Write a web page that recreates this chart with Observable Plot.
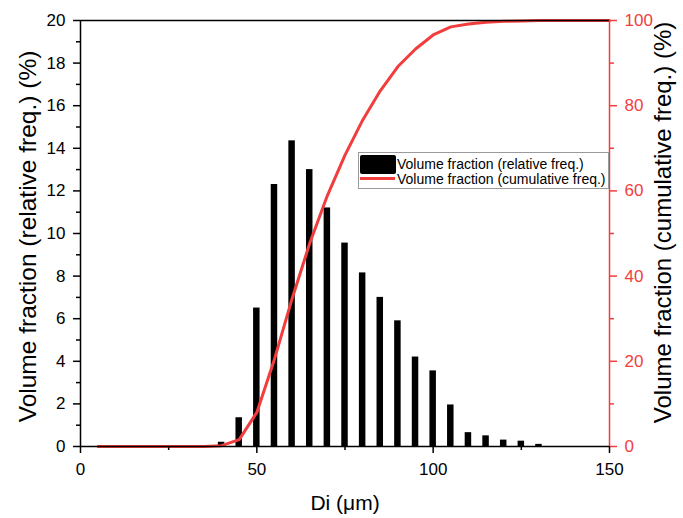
<!DOCTYPE html>
<html><head><meta charset="utf-8">
<script src="https://cdn.jsdelivr.net/npm/d3@7"></script>
<script src="https://cdn.jsdelivr.net/npm/@observablehq/plot@0.6"></script>
<style>
body{margin:0;background:#fff;font-family:"Liberation Sans",Arial,sans-serif;}
#wrap{position:relative;width:683px;height:518px;}
.legend{position:absolute;left:358px;top:152px;width:251px;height:37px;border:1px solid #9a9a9a;box-sizing:border-box;background:#fff;font-size:14px;color:#000;}
.legend .sw{position:absolute;left:1px;top:2px;width:36px;height:19px;background:#000;border-radius:2px;}
.legend .ln{position:absolute;left:1px;top:24px;width:35px;height:3px;background:#f23d3d;}
.legend .t1{position:absolute;left:38px;top:3px;line-height:16px;white-space:nowrap;}
.legend .t2{position:absolute;left:38px;top:18px;line-height:16px;white-space:nowrap;}
</style></head><body><div id="wrap"></div>
<script>
// Relative frequency histogram (%)
const diameters = [40,45,50,55,60,65,70,75,80,85,90,95,100,105,110,115,120,125,130];
const relFreq   = [0.2,1.35,6.5,12.3,14.35,13.0,11.2,9.55,8.15,7.0,5.9,4.2,3.55,1.95,0.65,0.5,0.3,0.25,0.1];
// Cumulative frequency curve (%)
const cumDi   = [5,10,15,20,25,30,35,40,45,50,55,60,65,70,75,80,85,90,95,100,105,110,115,120,125,130,135,140,145,150];
const cumFreq = [0,0,0,0,0,0,0,0.2,1.6,8,20.5,34.7,47.7,58.9,68.4,76.6,83.5,89.2,93.3,96.6,98.5,99.2,99.6,99.8,99.9,100,100,100,100,100];
// Axis ticks
const xTicks = [0,50,100,150];
const xMinor = [25,75,125];
const yTicks = [0,2,4,6,8,10,12,14,16,18,20];
const yMinor = [1,3,5,7,9,11,13,15,17,19];
const y2Ticks = [0,20,40,60,80,100];
const y2Minor = [10,30,50,70,90];
const labels = {
  x: "Di (μm)",
  y: "Volume fraction (relative freq.) (%)",
  y2: "Volume fraction (cumulative freq.) (%)",
  bars: "Volume fraction (relative freq.)",
  line: "Volume fraction (cumulative freq.)"
};

const red = "#f23d3d";
const bars = diameters.map((d, i) => ({d, v: relFreq[i]}));
const cum = cumDi.map((d, i) => ({d, c: cumFreq[i]}));
const k = 5; // cumulative % to left-axis units (100 -> 20)

const plot = Plot.plot({
  width: 683, height: 518,
  marginLeft: 80, marginRight: 74, marginTop: 20, marginBottom: 72,
  style: {fontFamily: "'Liberation Sans', Arial, sans-serif", fontSize: "17px", background: "#fff", overflow: "visible", color: "#000"},
  x: {domain: [0, 150]},
  y: {domain: [0, 20]},
  marks: [
    Plot.rectY(bars, {x1: d => d.d - 0.92, x2: d => d.d + 0.92, y: "v", fill: "#000"}),
    Plot.line(cum, {x: "d", y: d => d.c / k, stroke: red, strokeWidth: 3}),
    Plot.ruleY([0, 20], {stroke: "#000", strokeWidth: 1.5}),
    Plot.ruleX([0], {stroke: "#000", strokeWidth: 1.5}),
    Plot.ruleX([150], {stroke: red, strokeWidth: 1.5}),
    Plot.axisX({ticks: xTicks, tickSize: 7, tickPadding: 9, fontSize: 17, label: null, strokeWidth: 1.5}),
    Plot.axisX({ticks: xMinor, tickSize: 4, tickFormat: () => "", label: null, strokeWidth: 1.5}),
    Plot.axisY({ticks: yTicks, tickSize: 7, tickPadding: 8, fontSize: 17, label: null, strokeWidth: 1.5}),
    Plot.axisY({ticks: yMinor, tickSize: 4, tickFormat: () => "", label: null, strokeWidth: 1.5}),
    Plot.axisY({anchor: "right", ticks: y2Ticks.map(t => t / k), tickFormat: t => String(Math.round(t * k)), tickSize: 7, tickPadding: 8, fontSize: 17, label: null, stroke: red, fill: red, strokeWidth: 1.5}),
    Plot.axisY({anchor: "right", ticks: y2Minor.map(t => t / k), tickFormat: () => "", tickSize: 4, label: null, stroke: red, strokeWidth: 1.5}),
    Plot.text([labels.x], {text: d => d, frameAnchor: "bottom", textAnchor: "middle", lineAnchor: "middle", dy: 57, fontSize: 21}),
    Plot.text([labels.y], {text: d => d, frameAnchor: "left", textAnchor: "middle", lineAnchor: "middle", rotate: -90, dx: -52, dy: 3, fontSize: 24.5}),
    Plot.text([labels.y2], {text: d => d, frameAnchor: "right", textAnchor: "middle", lineAnchor: "middle", rotate: -90, dx: 54, dy: -11, fontSize: 24})
  ]
});
const wrap = document.getElementById("wrap");
wrap.appendChild(plot);
const lg = document.createElement("div");
lg.className = "legend";
lg.innerHTML = `<div class="sw"></div><div class="t1">${labels.bars}</div><div class="ln"></div><div class="t2">${labels.line}</div>`;
wrap.appendChild(lg);
</script>
</body></html>
